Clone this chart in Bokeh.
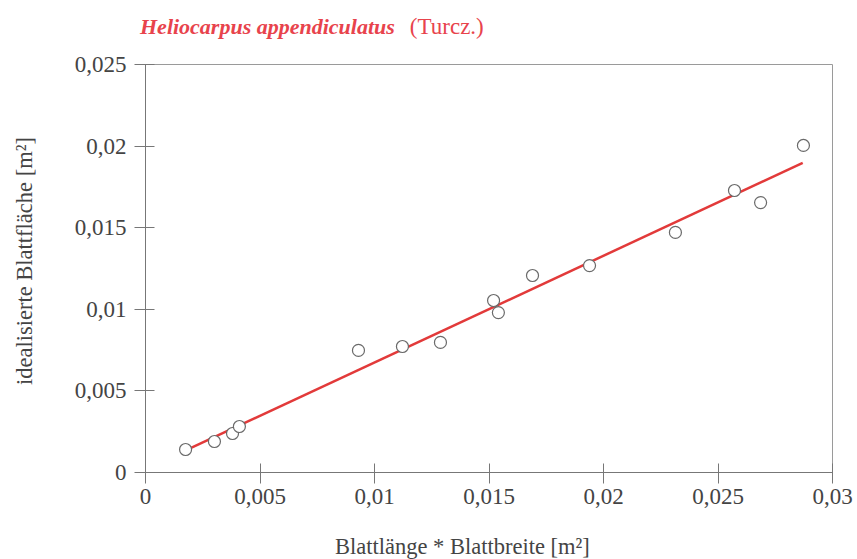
import math
from bokeh.plotting import figure
from bokeh.models import Range1d, FixedTicker, Div
from bokeh.layouts import column, row
from bokeh.embed import file_html
from bokeh.resources import INLINE

# data
blatt_lxb = [0.00175, 0.00301, 0.0038, 0.0041, 0.0093, 0.01122, 0.01288, 0.0152,
             0.01541, 0.0169, 0.01939, 0.02314, 0.02572, 0.02686, 0.02873]
blatt_flaeche = [0.00141, 0.0019, 0.00239, 0.00282, 0.00748, 0.00772, 0.00797, 0.01054,
                 0.0098, 0.01207, 0.01268, 0.01471, 0.01728, 0.01654, 0.02004]
fit_x = [0.0018, 0.0287]
fit_y = [0.00138, 0.01897]

x_ticks = [0, 0.005, 0.01, 0.015, 0.02, 0.025, 0.03]
x_tick_labels = ["0", "0,005", "0,01", "0,015", "0,02", "0,025", "0,03"]
y_ticks = [0, 0.005, 0.01, 0.015, 0.02, 0.025]
y_tick_labels = ["0", "0,005", "0,01", "0,015", "0,02", "0,025"]

title_species = "Heliocarpus appendiculatus"
title_author = "(Turcz.)"
x_label = "Blattlänge * Blattbreite [m²]"
y_label = "idealisierte Blattfläche [m²]"

FONT = "Liberation Serif"
TXT = "#444444"
RED = "#e8434c"
W, H = 857, 559
TOP = 44
LEFT = 45
BOTTOM = 30

header = Div(text=f'<span style="font-style:italic;font-weight:bold;font-size:22px">{title_species}</span>'
                  '<span style="display:inline-block;width:15px"></span>'
                  f'<span style="font-size:23px">{title_author}</span>',
             width=W, height=TOP,
             styles={"font-family": FONT, "color": RED,
                     "padding-left": "140px", "padding-top": "15px", "line-height": "1",
                     "box-sizing": "border-box", "margin": "0", "white-space": "nowrap"})

ylab = Div(text=f'<div style="width:320px;white-space:nowrap;line-height:1;'
                f'transform-origin:0 0;transform:translate(14px,336px) rotate(-90deg)">{y_label}</div>',
           width=LEFT, height=H - TOP - BOTTOM,
           styles={"font-family": FONT, "font-size": "22.5px", "color": TXT, "margin": "0"})

xlab = Div(text=x_label, width=W, height=BOTTOM,
           styles={"font-family": FONT, "font-size": "22.5px", "color": TXT,
                   "padding-left": "335px", "padding-top": "7px", "line-height": "1",
                   "box-sizing": "border-box", "margin": "0", "white-space": "nowrap"})

p = figure(width=W - LEFT, height=H - TOP - BOTTOM, output_backend="svg", toolbar_location=None,
           x_range=Range1d(0, 0.03), y_range=Range1d(0, 0.025),
           min_border_left=145 - LEFT, min_border_right=25, min_border_top=64 - TOP,
           min_border_bottom=H - BOTTOM - 472)
p.background_fill_color = "white"
p.border_fill_color = "white"
p.outline_line_color = "#9a9a9a"
p.outline_line_width = 1
p.xgrid.visible = False
p.ygrid.visible = False

for ax, ticks, labels in ((p.xaxis[0], x_ticks, x_tick_labels), (p.yaxis[0], y_ticks, y_tick_labels)):
    ax.ticker = FixedTicker(ticks=ticks)
    ax.major_label_overrides = {t: l for t, l in zip(ticks, labels)}
    ax.minor_tick_line_color = None
    ax.major_tick_in = 9
    ax.major_tick_out = 11
    ax.axis_line_color = "#777777"
    ax.major_tick_line_color = "#777777"
    ax.major_label_text_font = FONT
    ax.major_label_text_font_size = "23px"
    ax.major_label_text_color = TXT
p.xaxis.major_label_standoff = 5
p.yaxis.major_label_standoff = 8

p.line(fit_x, fit_y, line_color="#e23a3a", line_width=2.5)
p.scatter(blatt_lxb, blatt_flaeche, size=12, fill_color="white", line_color="#6a6a6a", line_width=1.2)

layout = column(header, row(ylab, p, spacing=0), xlab, spacing=0)
open("out.html", "w").write(file_html(layout, INLINE))
